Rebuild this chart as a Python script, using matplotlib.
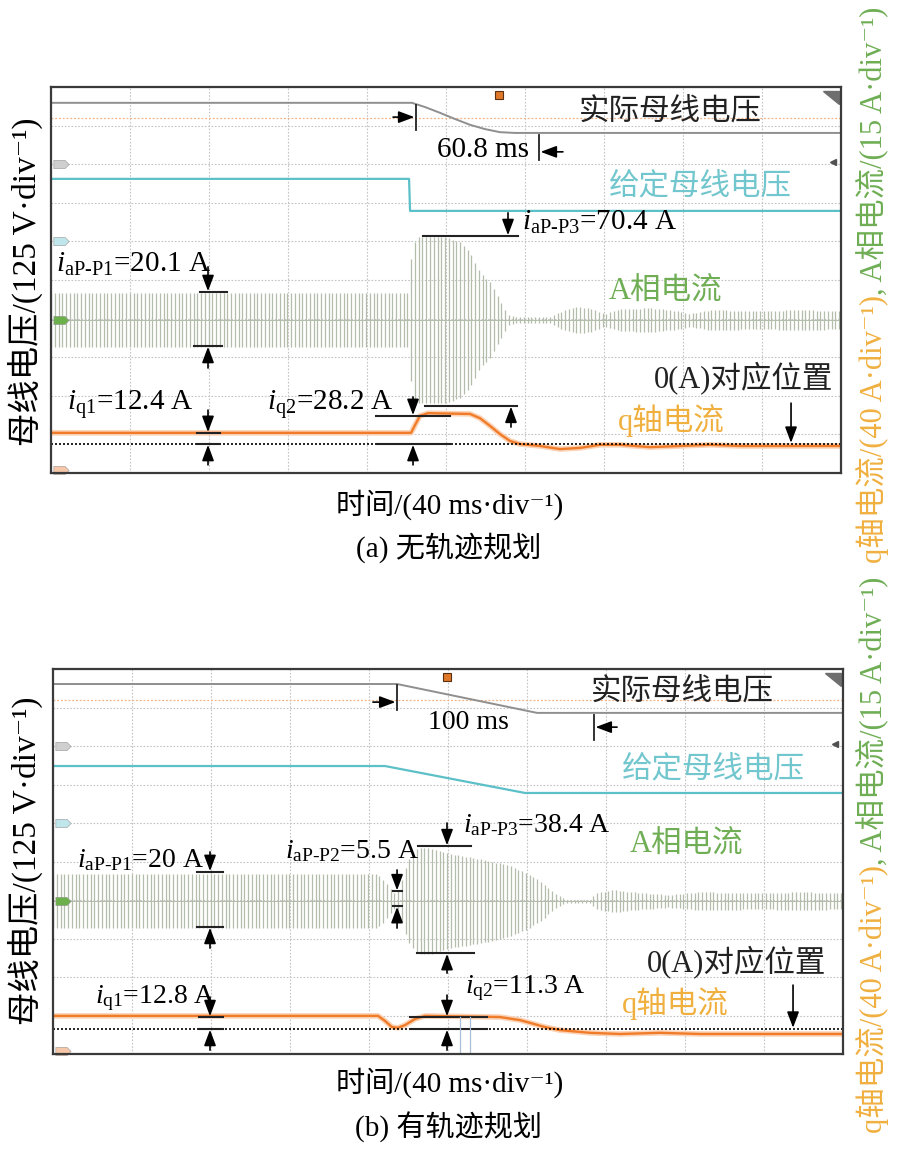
import numpy as np
import matplotlib
matplotlib.use("Agg")
import matplotlib.pyplot as plt

plt.rcParams['font.family'] = ['Liberation Serif', 'DejaVu Serif', 'Noto Sans CJK SC']
plt.rcParams['mathtext.fontset'] = 'custom'
plt.rcParams['mathtext.rm'] = 'Liberation Serif'
plt.rcParams['mathtext.it'] = 'Liberation Serif:italic'

# x: time in ms (40 ms/div, 10 div), y: screen divisions (0 = bottom edge)

# ---- (a) 无轨迹规划 ----
a_vbus_t = [0, 182.8, 189.4, 197.0, 204.6, 212.2, 219.7, 227.3, 234.9, 400]
a_vbus = [9.59, 9.59, 9.48, 9.33, 9.17, 9.02, 8.91, 8.83, 8.81, 8.81]
a_vref_t = [0, 181.3, 181.8, 400]
a_vref = [7.62, 7.62, 6.79, 6.79]
a_ia_t = [0, 181.3, 182.3, 184.8, 199.5, 207.1, 212.2, 217.2, 222.3, 227.3, 231.4,
          234.9, 252.7, 257.7, 265.3, 272.9, 280.5, 288.1, 303.3, 318.5, 323.5,
          333.7, 359.0, 379.2, 400]
a_ia_amp = [0.70, 0.70, 1.55, 2.15, 2.15, 2.02, 1.74, 1.24, 0.98, 0.52, 0.13,
            0.08, 0.08, 0.21, 0.34, 0.31, 0.16, 0.28, 0.31, 0.23, 0.16,
            0.26, 0.23, 0.26, 0.23]
a_ia_center = 3.96
a_iq_t = [0, 182.3, 184.3, 186.8, 190.9, 212.2, 217.2, 222.3, 227.3, 232.4, 237.5,
          247.6, 257.7, 267.8, 278.0, 288.1, 303.3, 318.5, 333.7, 348.9, 369.1, 400]
a_iq = [1.04, 1.04, 1.24, 1.48, 1.55, 1.53, 1.42, 1.22, 1.01, 0.83, 0.75,
        0.70, 0.62, 0.65, 0.73, 0.73, 0.67, 0.70, 0.73, 0.70, 0.70, 0.70]
a_zero = 0.75

# ---- (b) 有轨迹规划 ----
b_vbus_t = [0, 174.2, 245.1, 400]
b_vbus = [9.61, 9.61, 8.86, 8.86]
b_vref_t = [0, 168.1, 239.0, 400]
b_vref = [7.48, 7.48, 6.78, 6.78]
b_ia_t = [0, 164.0, 168.1, 171.6, 173.7, 175.7, 179.7, 184.8, 190.9, 201.0, 211.1,
          221.3, 231.4, 240.0, 248.1, 251.6, 255.2, 260.3, 271.9, 275.4, 284.6,
          293.7, 312.4, 327.6, 358.0, 378.2, 400]
b_ia_amp = [0.70, 0.70, 0.52, 0.26, 0.18, 0.39, 1.04, 1.38, 1.38, 1.22, 1.14,
            1.04, 0.91, 0.73, 0.47, 0.30, 0.16, 0.04, 0.04, 0.21, 0.29,
            0.23, 0.16, 0.23, 0.21, 0.23, 0.21]
b_ia_center = 3.97
b_iq_t = [0, 164.6, 168.1, 171.6, 174.7, 178.2, 183.3, 188.4, 226.3, 236.5, 249.1,
          256.7, 271.9, 287.1, 307.3, 327.6, 400]
b_iq = [0.99, 0.99, 0.86, 0.70, 0.68, 0.75, 0.91, 0.99, 0.96, 0.88, 0.70,
        0.62, 0.55, 0.52, 0.55, 0.52, 0.52]
b_zero = 0.65

ia_stroke = 1.9   # ms between the vertical strokes of the A-phase trace
ref_line = 9.2    # orange dotted reference

GRAY = '#8f8f8f'
TEAL = '#5cc0c8'
TEAL_TXT = '#72c6cd'
GREEN = '#b2bdab'
GREEN_TXT = '#6fae55'
ORANGE = '#f07c2a'
ORANGE_TXT = '#f0b040'

tag_shape = [(-1, -0.55), (0.45, -0.55), (1, 0), (0.45, 0.55), (-1, 0.55), (-1, -0.55)]


def draw_panel(ax, vbus_t, vbus, vref_t, vref, ia_t, ia_amp, ia_c, iq_t, iq, zero, trig):
    ax.set_xlim(0, 400)
    ax.set_ylim(0, 10)
    ax.set_xticks(np.arange(0, 401, 40))
    ax.set_yticks(np.arange(0, 11, 1))
    ax.grid(True, color='#c4c4c4', ls=(0, (1.5, 1.5)), lw=0.8)
    ax.set_axisbelow(True)
    ax.tick_params(length=0, labelbottom=False, labelleft=False)
    for s in ax.spines.values():
        s.set_color('#3a3a3a')
        s.set_linewidth(1.6)

    ax.axhline(ref_line, color='#f4b183', ls=(0, (1.5, 1.5)), lw=0.9)
    ax.plot(vbus_t, vbus, color=GRAY, lw=1.4)
    ax.plot(vref_t, vref, color=TEAL, lw=1.6)

    # A-phase current: dense strokes between the read envelope
    t = np.arange(0, 400 + ia_stroke, ia_stroke)
    amp = np.interp(t, ia_t, ia_amp)
    ax.vlines(t, ia_c - amp, ia_c + amp, color=GREEN, lw=0.9)
    ax.plot(ia_t, [ia_c] * len(ia_t), color=GREEN, lw=0.7)

    ax.plot(iq_t, iq, color='#fbd3b6', lw=4, solid_capstyle='butt')
    ax.plot(iq_t, iq, color=ORANGE, lw=1.7)
    ax.axhline(zero, color='k', ls=(0, (1.2, 1.2)), lw=1.2)

    # channel tags and scope markers
    for yy, c in [(8.0, '#cfcfcf'), (6.0, '#bfe6ea'), (ia_c, '#6cb04c'), (0.08, '#f6c7a8')]:
        ax.plot(5, yy, marker=tag_shape, ms=11, color=c, mec='#999999', mew=0.4, clip_on=False)
    ax.plot(trig, 9.8, marker='s', ms=6, color='#e0782a', mec='#5a3010', mew=0.8, clip_on=False)
    ax.fill([0.977, 0.997, 0.997], [0.99, 0.99, 0.955], transform=ax.transAxes, color='#6e6e6e')
    ax.plot(396, 8.05, marker='<', ms=5, color='#505050', clip_on=False)


def vline(ax, x, y0, y1):
    ax.plot([x, x], [y0, y1], color='#222222', lw=1.3)


def hline(ax, y, x0, x1):
    ax.plot([x0, x1], [y, y], color='#222222', lw=1.5)


def arrow(ax, tail, head):
    ax.annotate('', xy=head, xytext=tail,
                arrowprops=dict(arrowstyle='-|>,head_length=0.8,head_width=0.3',
                                color='k', lw=1.2, mutation_scale=12,
                                shrinkA=0, shrinkB=0))


fig = plt.figure(figsize=(9, 11.52), dpi=100)
ax_a = fig.add_axes([51 / 900, 1 - 473 / 1152, 790 / 900, 386 / 1152])
ax_b = fig.add_axes([53 / 900, 1 - 1054 / 1152, 790 / 900, 385 / 1152])

draw_panel(ax_a, a_vbus_t, a_vbus, a_vref_t, a_vref, a_ia_t, a_ia_amp, a_ia_center,
           a_iq_t, a_iq, a_zero, 226.8)
draw_panel(ax_b, b_vbus_t, b_vbus, b_vref_t, b_vref, b_ia_t, b_ia_amp, b_ia_center,
           b_iq_t, b_iq, b_zero, 199.5)

FS_A = 21
FS_B = 20
FS_CN = 22

# ---- annotations (a) ----
ax = ax_a
vline(ax, 184.8, 8.89, 9.53)
arrow(ax, (173.2, 9.22), (184.0, 9.22))
vline(ax, 247.1, 8.11, 8.76)
arrow(ax, (259.2, 8.32), (247.9, 8.32))
ax.text(218.7, 8.37, '60.8 ms', fontsize=FS_A, ha='center', va='center')
ax.text(313.4, 9.35, '实际母线电压', fontsize=FS_CN, ha='center', va='center', color='#222222')
ax.text(328.6, 7.41, '给定母线电压', fontsize=FS_CN, ha='center', va='center', color=TEAL_TXT)
ax.text(310.9, 4.69, 'A相电流', fontsize=FS_CN, ha='center', va='center', color=GREEN_TXT)
ax.text(350.9, 2.46, '0(A)对应位置', fontsize=FS_CN, ha='center', va='center', color='#222222')
ax.text(313.9, 1.37, 'q轴电流', fontsize=FS_CN, ha='center', va='center', color=ORANGE_TXT)
arrow(ax, (374.7, 1.81), (374.7, 0.78))

ax.text(238.5, 6.30, '$i_{\\mathrm{aP\u2010P3}}$=70.4 A', fontsize=FS_A, ha='left', va='baseline')
arrow(ax, (231.4, 6.74), (231.4, 6.16))
hline(ax, 6.14, 188.4, 236.5)
hline(ax, 1.74, 189.4, 236.0)
arrow(ax, (232.9, 1.19), (232.9, 1.72))

ax.text(2.5, 5.21, '$i_{\\mathrm{aP\u2010P1}}$=20.1 A', fontsize=FS_A, ha='left', va='baseline')
arrow(ax, (79.5, 5.34), (79.5, 4.71))
hline(ax, 4.69, 75.4, 89.1)
hline(ax, 3.29, 72.4, 86.6)
arrow(ax, (79.5, 2.72), (79.5, 3.27))

ax.text(8.1, 1.63, '$i_{\\mathrm{q1}}$=12.4 A', fontsize=FS_A, ha='left', va='baseline')
arrow(ax, (79.5, 1.63), (79.5, 1.06))
hline(ax, 1.04, 73.9, 85.6)
hline(ax, a_zero, 73.9, 85.6)
arrow(ax, (79.5, 0.21), (79.5, 0.73))

ax.text(109.4, 1.63, '$i_{\\mathrm{q2}}$=28.2 A', fontsize=FS_A, ha='left', va='baseline')
arrow(ax, (183.3, 1.97), (183.3, 1.50))
hline(ax, 1.48, 164.6, 202.0)
hline(ax, a_zero, 165.1, 202.0)
arrow(ax, (183.3, 0.21), (183.3, 0.73))

# ---- annotations (b) ----
ax = ax_b
vline(ax, 174.2, 8.94, 9.58)
arrow(ax, (162.0, 9.14), (173.4, 9.14))
vline(ax, 273.9, 8.16, 8.81)
arrow(ax, (285.6, 8.49), (274.7, 8.49))
ax.text(210.1, 8.62, '100 ms', fontsize=FS_B, ha='center', va='center')
ax.text(318.5, 9.40, '实际母线电压', fontsize=FS_CN, ha='center', va='center', color='#222222')
ax.text(334.2, 7.38, '给定母线电压', fontsize=FS_CN, ha='center', va='center', color=TEAL_TXT)
ax.text(321.0, 5.43, 'A相电流', fontsize=FS_CN, ha='center', va='center', color=GREEN_TXT)
ax.text(346.3, 2.39, '0(A)对应位置', fontsize=FS_CN, ha='center', va='center', color='#222222')
ax.text(314.9, 1.32, 'q轴电流', fontsize=FS_CN, ha='center', va='center', color=ORANGE_TXT)
arrow(ax, (374.7, 1.79), (374.7, 0.68))

ax.text(207.6, 5.77, '$i_{\\mathrm{aP\u2010P3}}$=38.4 A', fontsize=FS_B, ha='left', va='baseline')
arrow(ax, (199.5, 6.0), (199.5, 5.42))
hline(ax, 5.40, 184.8, 211.6)
hline(ax, 2.62, 184.3, 213.2)
arrow(ax, (199.5, 2.10), (199.5, 2.60))

ax.text(12.2, 4.86, '$i_{\\mathrm{aP\u2010P1}}$=20 A', fontsize=FS_B, ha='left', va='baseline')
arrow(ax, (79.5, 5.25), (79.5, 4.75))
hline(ax, 4.73, 72.9, 86.1)
hline(ax, 3.30, 72.9, 86.1)
arrow(ax, (79.5, 2.75), (79.5, 3.28))

ax.text(117.5, 5.09, '$i_{\\mathrm{aP\u2010P2}}$=5.5 A', fontsize=FS_B, ha='left', va='baseline')
arrow(ax, (174.2, 4.78), (174.2, 4.25))
hline(ax, 4.23, 172.2, 176.7)
hline(ax, 3.84, 172.2, 176.7)
arrow(ax, (174.2, 3.27), (174.2, 3.82))

ax.text(21.3, 1.32, '$i_{\\mathrm{q1}}$=12.8 A', fontsize=FS_B, ha='left', va='baseline')
arrow(ax, (79.5, 1.48), (79.5, 0.98))
hline(ax, 0.96, 73.9, 86.1)
hline(ax, b_zero, 73.9, 86.1)
arrow(ax, (79.5, 0.10), (79.5, 0.63))

ax.text(208.6, 1.58, '$i_{\\mathrm{q2}}$=11.3 A', fontsize=FS_B, ha='left', va='baseline')
arrow(ax, (199.5, 1.53), (199.5, 0.98))
hline(ax, 0.96, 180.8, 219.7)
hline(ax, b_zero, 180.8, 219.7)
arrow(ax, (199.5, 0.10), (199.5, 0.63))
for xc in (206.1, 211.1):
    ax.plot([xc, xc], [0, 0.96], color='#a9bfd6', lw=0.9)

# ---- outer labels ----
fig.text(0.5, 1 - 505 / 1152, '时间/(40 ms·div⁻¹)', fontsize=21, ha='center', va='center')
fig.text(0.498, 1 - 548 / 1152, '(a) 无轨迹规划', fontsize=21, ha='center', va='center')
fig.text(0.5, 1 - 1083 / 1152, '时间/(40 ms·div⁻¹)', fontsize=21, ha='center', va='center')
fig.text(0.498, 1 - 1127 / 1152, '(b) 有轨迹规划', fontsize=21, ha='center', va='center')
for yc in (282, 861):
    fig.text(25 / 900, 1 - yc / 1152, '母线电压/(125 V·div⁻¹)', fontsize=24,
             rotation=90, ha='center', va='center')

for ys in (563, 1133):
    t1 = fig.text(873 / 900, 1 - ys / 1152, 'q轴电流/(40 A·div⁻¹)', fontsize=22,
                  color=ORANGE_TXT, rotation=90, rotation_mode='anchor',
                  ha='left', va='center')
    ax_a.annotate(', A相电流/(15 A·div⁻¹)', xy=(0.5, 1.0), xycoords=t1, fontsize=22,
                  color=GREEN_TXT, rotation=90, rotation_mode='anchor',
                  ha='left', va='center', annotation_clip=False)

fig.savefig('out.png', dpi=100)
